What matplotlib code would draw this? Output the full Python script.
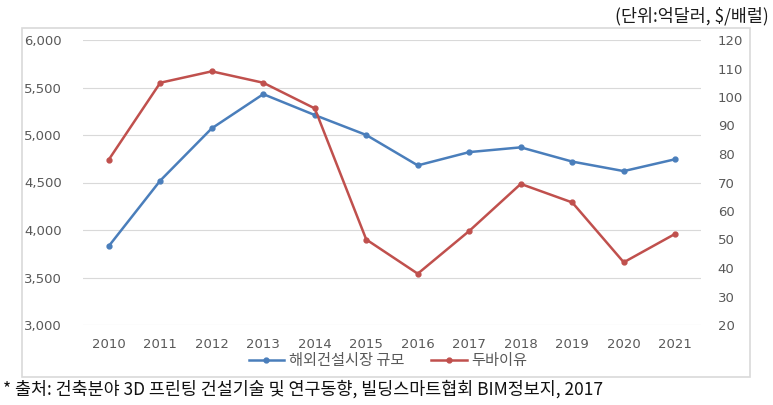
import matplotlib
matplotlib.use("Agg")
import matplotlib.pyplot as plt
from matplotlib.patches import Rectangle

years = ["2010", "2011", "2012", "2013", "2014", "2015", "2016", "2017", "2018", "2019", "2020", "2021"]
market = [3830, 4520, 5070, 5430, 5210, 5000, 4680, 4820, 4870, 4720, 4620, 4745]
dubai = [78.0, 105.0, 109.0, 105.0, 96.0, 50.0, 38.0, 53.0, 69.5, 63.0, 42.0, 52.0]
left_ticks = [3000, 3500, 4000, 4500, 5000, 5500, 6000]
right_ticks = [20, 30, 40, 50, 60, 70, 80, 90, 100, 110, 120]
series_names = ["해외건설시장 규모", "두바이유"]
unit_text = "(단위:억달러, $/배럴)"
source_text = "* 출처: 건축분야 3D 프린팅 건설기술 및 연구동향, 빌딩스마트협회 BIM정보지, 2017"

plt.rcParams['font.family'] = ['DejaVu Sans', 'Noto Sans CJK KR']
KR = ['Noto Sans CJK KR', 'DejaVu Sans']

W, H = 773, 405
fig = plt.figure(figsize=(W / 100, H / 100), dpi=100)

# outer chart frame
fig.patches.append(Rectangle((22 / W, 1 - 377 / H), (750 - 22) / W, (377 - 28) / H,
                             transform=fig.transFigure, fill=False, edgecolor='#d9d9d9', linewidth=1.2))

ax = fig.add_axes([83 / W, 1 - 325 / H, (701 - 83) / W, (325 - 40) / H])
ax2 = ax.twinx()

blue = '#4a7ebb'
red = '#c0504d'
tick_color = '#595959'

x = list(range(len(years)))
l1, = ax.plot(x, market, color=blue, linewidth=1.8, marker='o', markersize=3.5, zorder=3)
l2, = ax2.plot(x, dubai, color=red, linewidth=1.8, marker='o', markersize=3.5, zorder=3)

ax.set_xlim(-0.5, len(years) - 0.5)
ax.set_ylim(3000, 6000)
ax2.set_ylim(20, 120)
ax.set_yticks(left_ticks)
ax.set_yticklabels([f"{v:,}" for v in left_ticks])
ax2.set_yticks(right_ticks)
ax.set_xticks(x)
ax.set_xticklabels(years)

ax.grid(axis='y', color='#d9d9d9', linewidth=0.8)
ax.set_axisbelow(True)
for a in (ax, ax2):
    for s in a.spines.values():
        s.set_visible(False)
    a.tick_params(length=0, colors=tick_color, labelsize=9.5)
ax.tick_params(axis='y', pad=15)
ax2.tick_params(axis='y', pad=12)
ax.tick_params(axis='x', pad=9)

leg = fig.legend([l1, l2], series_names, loc='center', bbox_to_anchor=(388 / W, 1 - 361 / H),
                 ncol=2, frameon=False, prop={'family': KR, 'size': 11}, labelcolor=tick_color,
                 handlelength=2.3, columnspacing=1.8, handletextpad=0.3)

fig.text(769 / W, 1 - 16 / H, unit_text, ha='right', va='center', family=KR, fontsize=12.5, color='#1a1a1a')
fig.text(3 / W, 1 - 389 / H, source_text, ha='left', va='center', family=KR, fontsize=12.5, color='#111111')

fig.savefig("out.png", dpi=100)
